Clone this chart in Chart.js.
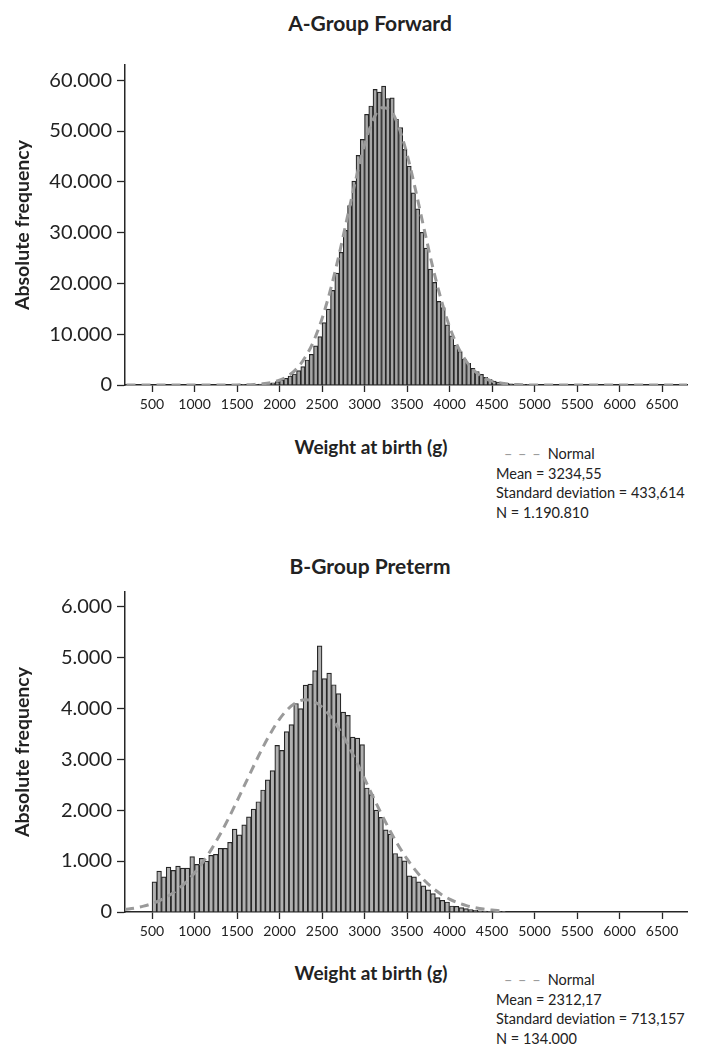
<!DOCTYPE html>
<html>
<head>
<meta charset="utf-8">
<title>Weight at birth histograms</title>
<script src="https://cdn.jsdelivr.net/npm/chart.js@4.4.0/dist/chart.umd.min.js"></script>
<style>
  html, body { margin: 0; padding: 0; background: #fff; }
  #page { position: relative; width: 706px; height: 1044px; overflow: hidden;
          font-family: Lato, "Open Sans", sans-serif; color: #222; }
  .panel { position: absolute; left: 0; width: 706px; height: 430px; }
  .lbl { position: absolute; white-space: nowrap; transform: translate(-50%, -50%); }
  .title { font-weight: bold; font-size: 21px; }
  .xtitle { font-weight: bold; font-size: 19px; }
  .stats { position: absolute; left: 496px; font-size: 14.5px; line-height: 19.5px; white-space: nowrap; }
  .dash { color: #9c9c9c; margin: 0 6px 0 8px; letter-spacing: 1px; }
</style>
</head>
<body>
<div id="page">
  <div class="lbl title" style="left:370px; top:22px;">A-Group Forward</div>
  <div class="panel" style="top:0px;"><canvas id="forward" width="706" height="430"></canvas></div>
  <div class="lbl xtitle" style="left:371px; top:446px;">Weight at birth (g)</div>
  <div class="stats" style="top:444px;">
    <div><span class="dash">– – –</span>Normal</div>
    <div>Mean = 3234,55</div>
    <div>Standard deviation = 433,614</div>
    <div>N = 1.190.810</div>
  </div>

  <div class="lbl title" style="left:370px; top:565px;">B-Group Preterm</div>
  <div class="panel" style="top:527px;"><canvas id="preterm" width="706" height="430"></canvas></div>
  <div class="lbl xtitle" style="left:371px; top:972px;">Weight at birth (g)</div>
  <div class="stats" style="top:970px;">
    <div><span class="dash">– – –</span>Normal</div>
    <div>Mean = 2312,17</div>
    <div>Standard deviation = 713,157</div>
    <div>N = 134.000</div>
  </div>
</div>

<script>
// shared x axis ticks (g)
const weightTicks = [500, 1000, 1500, 2000, 2500, 3000, 3500, 4000, 4500, 5000, 5500, 6000, 6500];

// A-Group Forward: 50 g bins, bin centres and counts
const forwardBins = [
  1525, 1575, 1625, 1675, 1725, 1775, 1825, 1875, 1925, 1975,
  2025, 2075, 2125, 2175, 2225, 2275, 2325, 2375, 2425, 2475,
  2525, 2575, 2625, 2675, 2725, 2775, 2825, 2875, 2925, 2975,
  3025, 3075, 3125, 3175, 3225, 3275, 3325, 3375, 3425, 3475,
  3525, 3575, 3625, 3675, 3725, 3775, 3825, 3875, 3925, 3975,
  4025, 4075, 4125, 4175, 4225, 4275, 4325, 4375, 4425, 4475,
  4525, 4575, 4625, 4675, 4725, 4775, 4825, 4875, 4925, 4975
];
const forwardCounts = [
  60, 70, 90, 110, 150, 200, 260, 330, 450, 650,
  990, 1320, 1780, 2170, 2830, 3620, 4930, 6050, 7700, 9540,
  12300, 14930, 18620, 22040, 26120, 30460, 35330, 40130, 45200, 48360,
  53290, 54930, 58190, 57660, 58840, 56410, 56550, 52300, 50660, 46380,
  43090, 37830, 34670, 30070, 26970, 22830, 20200, 16450, 15260, 11840,
  9670, 7830, 6580, 5070, 4280, 3290, 2630, 2110, 1510, 1120,
  790, 590, 460, 330, 230, 150, 100, 70, 50, 40
];
// dashed normal curve
const forwardNormalX = [200, 1500, 1600, 1700, 1800, 1900, 2000, 2100, 2200, 2300, 2400, 2500,
  2600, 2700, 2800, 2900, 3000, 3100, 3200, 3300, 3400, 3500, 3600, 3700, 3800, 3900,
  4000, 4100, 4200, 4300, 4400, 4500, 4600, 4700, 4800, 4900, 5000, 6800];
const forwardNormalY = [0, 20, 50, 110, 230, 480, 950, 1780, 3180, 5400, 8600, 13050,
  18800, 25600, 33200, 40650, 47300, 52200, 54600, 54200, 50900, 45450, 38400, 30800, 23400, 16900,
  11500, 7470, 4600, 2680, 1480, 775, 385, 180, 80, 35, 15, 0];
const forwardYTicks = [0, 10000, 20000, 30000, 40000, 50000, 60000];

// B-Group Preterm: 55.6 g bins starting at 500 g
const pretermBins = [
  527.8, 583.3, 638.9, 694.4, 750.0, 805.6, 861.1, 916.7, 972.2, 1027.8,
  1083.3, 1138.9, 1194.4, 1250.0, 1305.6, 1361.1, 1416.7, 1472.2, 1527.8, 1583.3,
  1638.9, 1694.4, 1750.0, 1805.6, 1861.1, 1916.7, 1972.2, 2027.8, 2083.3, 2138.9,
  2194.4, 2250.0, 2305.6, 2361.1, 2416.7, 2472.2, 2527.8, 2583.3, 2638.9, 2694.4,
  2750.0, 2805.6, 2861.1, 2916.7, 2972.2, 3027.8, 3083.3, 3138.9, 3194.4, 3250.0,
  3305.6, 3361.1, 3416.7, 3472.2, 3527.8, 3583.3, 3638.9, 3694.4, 3750.0, 3805.6,
  3861.1, 3916.7, 3972.2, 4027.8, 4083.3, 4138.9, 4194.4, 4250.0, 4305.6, 4361.1,
  4416.7, 4472.2, 4527.8, 4583.3, 4638.9
];
const pretermCounts = [
  592, 803, 690, 882, 816, 901, 862, 862, 1086, 934,
  1053, 1000, 1112, 1132, 1250, 1250, 1368, 1625, 1513, 1711,
  1868, 2020, 2164, 2395, 2592, 2776, 3270, 3171, 3539, 3678,
  4092, 3993, 4454, 4474, 4737, 5224, 4580, 4690, 4460, 4285,
  3924, 3858, 3432, 3412, 3287, 2434, 2303, 2001, 1857, 1614,
  1529, 1148, 1083, 1004, 709, 689, 591, 512, 433, 361,
  282, 230, 197, 118, 112, 85, 66, 46, 33, 25,
  20, 15, 10, 8, 5
];
const pretermNormalX = [183, 300, 400, 500, 600, 700, 800, 900, 1000, 1100, 1200, 1300, 1400,
  1500, 1600, 1700, 1800, 1900, 2000, 2100, 2200, 2300, 2400, 2500, 2600, 2700, 2800,
  2900, 3000, 3100, 3200, 3300, 3400, 3500, 3600, 3700, 3800, 3900, 4000, 4100, 4200,
  4300, 4400, 4500, 4600];
const pretermNormalY = [52, 78, 115, 165, 233, 323, 440, 586, 767, 982, 1234, 1521, 1838,
  2177, 2529, 2880, 3218, 3524, 3786, 3985, 4114, 4165, 4134, 4023, 3839, 3592, 3296,
  2966, 2616, 2262, 1919, 1596, 1302, 1041, 816, 627, 473, 350, 253, 180, 125,
  86, 57, 38, 24];
const pretermYTicks = [0, 1000, 2000, 3000, 4000, 5000, 6000];

const ink = '#262626';

function dotted(v) {
  return String(v).replace(/\B(?=(\d{3})+(?!\d))/g, '.');
}

function histogram(id, bins, counts, normalX, normalY, yTicks, yMax, fillColour) {
  const ctx = document.getElementById(id).getContext('2d');
  return new Chart(ctx, {
    type: 'bar',
    data: {
      datasets: [{
        type: 'line',
        label: 'Normal',
        data: normalX.map((x, i) => ({x: x, y: normalY[i]})),
        borderColor: '#9a9a9a',
        borderWidth: 3,
        borderDash: [9, 6],
        pointRadius: 0,
        cubicInterpolationMode: 'monotone',
        fill: false,
        order: 0
      }, {
        label: 'Weight',
        data: bins.map((x, i) => ({x: x, y: counts[i]})),
        backgroundColor: fillColour,
        borderColor: ink,
        borderWidth: 1.2,
        barPercentage: 1,
        categoryPercentage: 1,
        order: 1
      }]
    },
    options: {
      responsive: false,
      animation: false,
      events: [],
      layout: { padding: { top: 65, right: 19, bottom: 0, left: 0 } },
      plugins: { legend: { display: false }, tooltip: { enabled: false } },
      scales: {
        x: {
          type: 'linear',
          min: 182,
          max: 6794,
          offset: false,
          grid: { drawOnChartArea: false, drawTicks: true, tickLength: 7,
                  tickColor: ink, tickWidth: 1.3, offset: false },
          border: { display: true, color: ink, width: 1.5 },
          afterBuildTicks: (scale) => { scale.ticks = weightTicks.map(v => ({value: v})); },
          afterFit: (scale) => { scale.height = 45; },
          ticks: {
            autoSkip: false, maxRotation: 0, padding: 4, color: '#222',
            font: { family: 'Lato', size: 14 },
            callback: (v) => String(v)
          }
        },
        y: {
          min: 0,
          max: yMax,
          grid: { drawOnChartArea: false, drawTicks: true, tickLength: 8,
                  tickColor: ink, tickWidth: 1.3 },
          border: { display: true, color: ink, width: 1.5 },
          afterBuildTicks: (scale) => { scale.ticks = yTicks.map(v => ({value: v})); },
          afterFit: (scale) => { scale.width = 125; },
          ticks: {
            padding: 5, color: '#222',
            font: { family: 'Lato', size: 20 },
            callback: (v) => dotted(v)
          },
          title: {
            display: true,
            text: 'Absolute frequency',
            color: '#222',
            font: { family: 'Lato', size: 19.5, weight: 'bold' },
            padding: { top: 11, bottom: 0 }
          }
        }
      }
    }
  });
}

histogram('forward', forwardBins, forwardCounts, forwardNormalX, forwardNormalY, forwardYTicks, 63000, '#a6a6a6');
histogram('preterm', pretermBins, pretermCounts, pretermNormalX, pretermNormalY, pretermYTicks, 6280, '#b0b0b0');
</script>
</body>
</html>
